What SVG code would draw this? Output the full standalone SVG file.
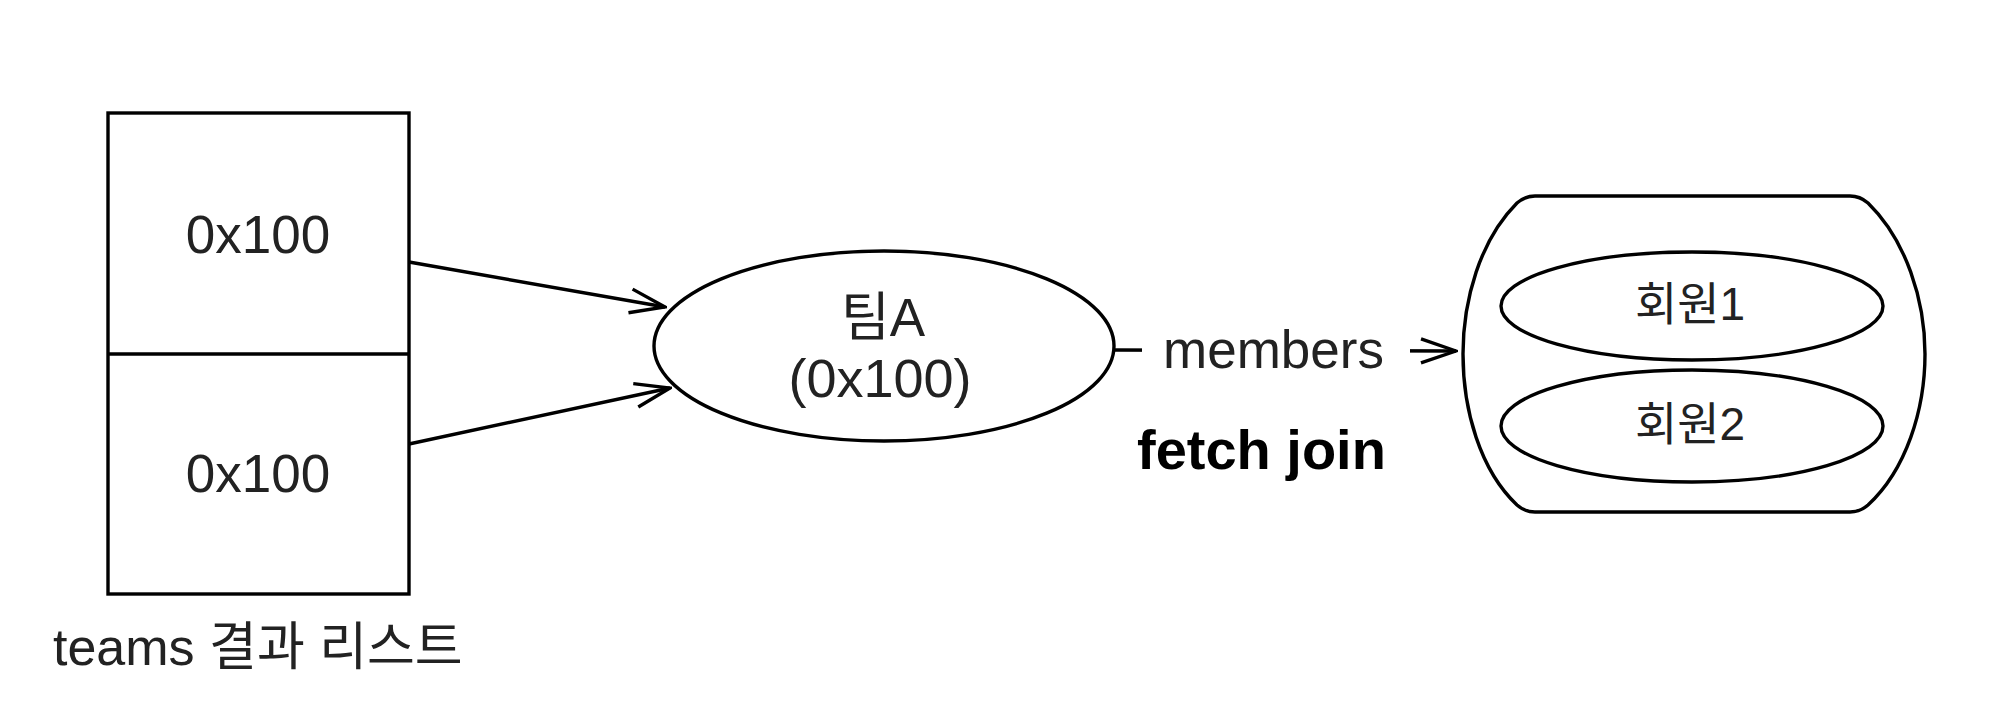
<svg xmlns="http://www.w3.org/2000/svg" width="2000" height="704" viewBox="0 0 2000 704">
<style>
.shape{fill:#fff;stroke:#000;stroke-width:3.4}
.conn{fill:none;stroke:#000;stroke-width:3.4}
.t{font-family:"Liberation Sans","Noto Sans CJK KR",sans-serif;fill:#222}
.c{text-anchor:middle}
</style>
<defs>
<marker id="open" viewBox="0 0 40 30" refX="38" refY="15" markerWidth="40" markerHeight="30" markerUnits="userSpaceOnUse" orient="auto">
<path d="M3,3 L38,15 L3,27" fill="none" stroke="#000" stroke-width="3.4"/>
</marker>
</defs>
<rect width="2000" height="704" fill="#fff"/>
<g id="list">
<rect class="shape" x="108" y="113" width="301" height="481"/>
<line class="conn" x1="108" y1="354" x2="409" y2="354"/>
<text class="t c" x="258" y="253" font-size="53">0x100</text>
<text class="t c" x="258" y="492" font-size="53">0x100</text>
<text class="t" x="53" y="665" font-size="52">teams 결과 리스트</text>
</g>
<g id="teamA">
<ellipse class="shape" cx="884" cy="346" rx="230" ry="95"/>
<text class="t c" x="883" y="336" font-size="53">팀A</text>
<text class="t c" x="880" y="397" font-size="54">(0x100)</text>
</g>
<g id="members">
<path class="shape" d="M1535,196 H1850 Q1860,196 1868,203 C1906,240 1925,300 1925,354 C1925,410 1906,470 1868,505 Q1860,512 1850,512 H1535 Q1525,512 1517,505 C1480,470 1463,410 1463,354 C1463,300 1480,240 1517,203 Q1525,196 1535,196 Z"/>
<ellipse class="shape" cx="1692" cy="306" rx="191" ry="54"/>
<ellipse class="shape" cx="1692" cy="426" rx="191" ry="56"/>
<text class="t c" x="1690" y="320" font-size="46">회원1</text>
<text class="t c" x="1690" y="440" font-size="46">회원2</text>
</g>
<g id="connectors">
<line class="conn" x1="409" y1="262" x2="665" y2="307" marker-end="url(#open)"/>
<line class="conn" x1="409" y1="444" x2="670" y2="388" marker-end="url(#open)"/>
<line class="conn" x1="1114" y1="350" x2="1456" y2="351" marker-end="url(#open)"/>
<rect x="1142" y="320" width="268" height="60" fill="#fff"/>
<text class="t" x="1163" y="368" font-size="53" fill="#333">members</text>
<text x="1137" y="469" font-size="56" font-weight="bold" font-family="'Liberation Sans',sans-serif" fill="#000">fetch join</text>
</g>
</svg>
